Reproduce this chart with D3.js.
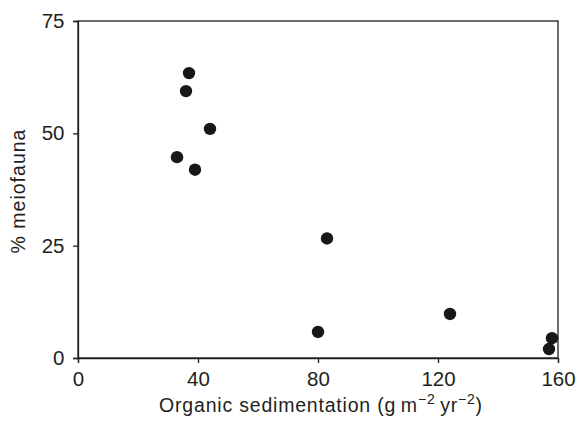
<!DOCTYPE html>
<html>
<head>
<meta charset="utf-8">
<script src="https://cdn.jsdelivr.net/npm/d3@7"></script>
<style>
  html, body { margin: 0; padding: 0; background: #fff; }
  svg { display: block; font-family: "Liberation Sans", Arial, Helvetica, sans-serif; }
</style>
</head>
<body>
<svg id="chart" width="579" height="421"></svg>
<script>
// Organic sedimentation (g m-2 yr-2) vs. % meiofauna
const sedimentation = [33, 36, 37, 39, 44, 80, 83, 124, 157, 158];
const meiofauna     = [44.7, 59.4, 63.4, 41.9, 51.0, 5.8, 26.6, 9.8, 2.0, 4.4];
const xTicks = [0, 40, 80, 120, 160];
const yTicks = [0, 25, 50, 75];

const ink = "#231f20";
const margin = { top: 21, right: 21, bottom: 63, left: 78 };
const W = 579, H = 421;

const svg = d3.select("#chart");

const x = d3.scaleLinear().domain([0, 160]).range([margin.left, W - margin.right]);
const y = d3.scaleLinear().domain([0, 75]).range([H - margin.bottom, margin.top]);

// frame
svg.append("rect")
  .attr("x", x(0)).attr("y", y(75))
  .attr("width", x(160) - x(0)).attr("height", y(0) - y(75))
  .attr("fill", "none").attr("stroke", ink).attr("stroke-width", 1.3);

const xAxis = svg.append("g")
  .attr("transform", `translate(0,${y(0)})`)
  .call(d3.axisBottom(x).tickValues(xTicks).tickSize(5).tickPadding(8.5));
const yAxis = svg.append("g")
  .attr("transform", `translate(${x(0)},0)`)
  .call(d3.axisLeft(y).tickValues(yTicks).tickSize(5).tickPadding(8.5));

[xAxis, yAxis].forEach(g => {
  g.select(".domain").attr("stroke", ink).attr("stroke-width", 1.3);
  g.selectAll(".tick line").attr("stroke", ink).attr("stroke-width", 1.3);
  g.selectAll(".tick text")
    .attr("fill", ink)
    .style("font-family", "'Liberation Sans', Arial, sans-serif")
    .style("font-size", "20.5px");
});

// points
svg.append("g")
  .selectAll("circle")
  .data(sedimentation.map((d, i) => [d, meiofauna[i]]))
  .join("circle")
  .attr("cx", d => x(d[0]))
  .attr("cy", d => y(d[1]))
  .attr("r", 6.2)
  .attr("fill", "#1a1718");

// x-axis title with superscripts
const xt = svg.append("text")
  .attr("x", (x(0) + x(160)) / 2 + 3)
  .attr("y", 412)
  .attr("text-anchor", "middle")
  .attr("fill", ink)
  .style("font-size", "19.5px")
  .style("letter-spacing", "0.8px");
xt.append("tspan").text("Organic sedimentation (g\u2009m");
xt.append("tspan").attr("dy", -8).style("font-size", "14px").text("\u22122");
xt.append("tspan").attr("dy", 8).text("\u2009yr");
xt.append("tspan").attr("dy", -8).style("font-size", "14px").text("\u22122");
xt.append("tspan").attr("dy", 8).text(")");

// y-axis title
svg.append("text")
  .attr("transform", `translate(25,191) rotate(-90)`)
  .attr("text-anchor", "middle")
  .attr("fill", ink)
  .style("font-size", "19.5px")
  .style("letter-spacing", "1px")
  .text("% meiofauna");
</script>
</body>
</html>
